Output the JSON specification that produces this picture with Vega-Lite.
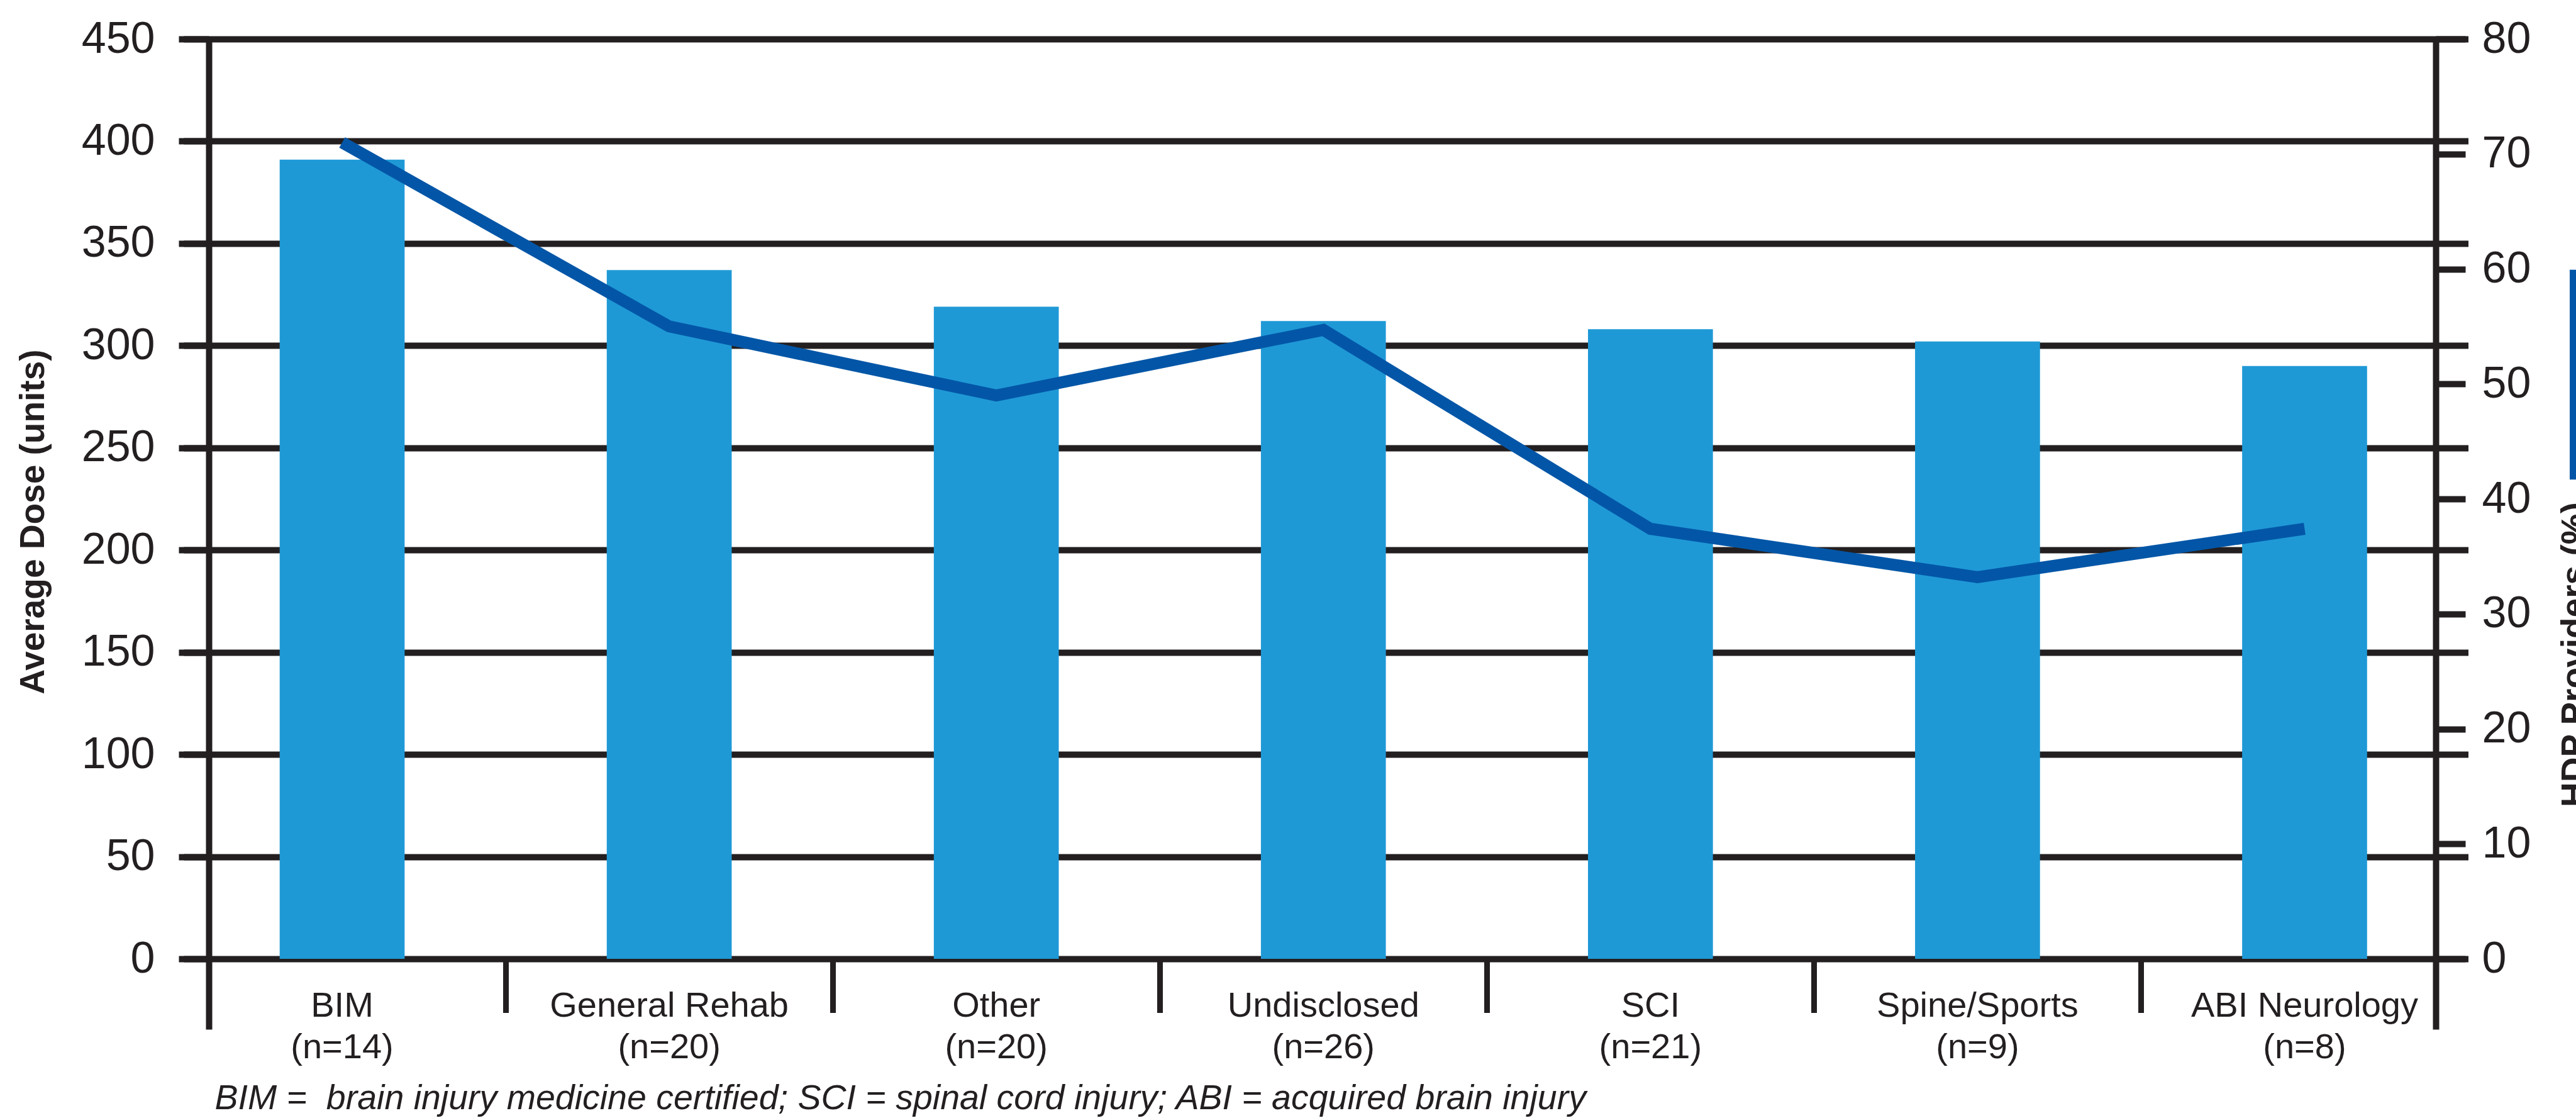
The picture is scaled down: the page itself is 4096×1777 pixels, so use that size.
{
  "$schema": "https://vega.github.io/schema/vega-lite/v6.json",
  "width": 3541,
  "height": 1574,
  "autosize": {"type": "none"},
  "padding": {"left": 332, "top": 62, "right": 223, "bottom": 141},
  "background": "white",
  "config": {
    "view": {"stroke": null},
    "font": "Liberation Sans",
    "axis": {"labelFont": "Liberation Sans", "titleFont": "Liberation Sans"}
  },
  "data": {
    "values": [
      {"specialty": "BIM (n=14)", "dose": 391, "pct": 71},
      {"specialty": "General Rehab (n=20)", "dose": 337, "pct": 55},
      {"specialty": "Other (n=20)", "dose": 319, "pct": 49},
      {"specialty": "Undisclosed (n=26)", "dose": 312, "pct": 54.7},
      {"specialty": "SCI (n=21)", "dose": 308, "pct": 37.4},
      {"specialty": "Spine/Sports (n=9)", "dose": 302, "pct": 33.2},
      {"specialty": "ABI Neurology (n=8)", "dose": 290, "pct": 37.4}
    ]
  },
  "layer": [
    {
      "mark": {"type": "bar", "color": "#1F99D6", "width": {"band": 0.382}},
      "encoding": {
        "x": {
          "field": "specialty",
          "type": "nominal",
          "sort": null,
          "scale": {"type": "band", "range": [-48, 3592.5], "paddingInner": 0, "paddingOuter": 0},
          "axis": {
            "orient": "bottom",
            "offset": -112,
            "domain": false,
            "ticks": false,
            "grid": false,
            "labelAngle": 0,
            "labelFontSize": 56,
            "labelColor": "#231F20",
            "labelPadding": 47,
            "labelLineHeight": 66.5,
            "labelLimit": 2000,
            "labelOverlap": false,
            "labelFlush": false,
            "labelExpr": "[substring(datum.label, 0, indexof(datum.label, ' (')), substring(datum.label, indexof(datum.label, ' (') + 1)]",
            "title": "BIM = \u00a0brain injury medicine certified; SCI = spinal cord injury; ABI = acquired brain injury",
            "titleFontSize": 55.5,
            "titleFontStyle": "italic",
            "titleFontWeight": "normal",
            "titleColor": "#231F20",
            "titleX": 9,
            "titleY": 238.6,
            "titleAlign": "left",
            "titleAnchor": "start",
            "titleBaseline": "alphabetic"
          }
        },
        "y": {
          "field": "dose",
          "type": "quantitative",
          "scale": {"domain": [-34.47, 450], "nice": false, "zero": false},
          "axis": {
            "orient": "left",
            "values": [0, 50, 100, 150, 200, 250, 300, 350, 400, 450],
            "grid": true,
            "gridColor": "#231F20",
            "gridWidth": 10,
            "gridOpacity": 1,
            "domain": true,
            "domainColor": "#231F20",
            "domainWidth": 10,
            "ticks": true,
            "tickSize": 40,
            "tickWidth": 10,
            "tickColor": "#231F20",
            "labelFontSize": 70,
            "labelColor": "#231F20",
            "labelPadding": 46,
            "title": "Average Dose (units)",
            "titleFontSize": 55,
            "titleFontWeight": "bold",
            "titleColor": "#231F20",
            "titleAngle": -90,
            "titleX": -306,
            "titleY": 767,
            "titleAlign": "center",
            "titleBaseline": "top"
          }
        }
      }
    },
    {
      "mark": {"type": "line", "strokeWidth": 19, "strokeJoin": "miter", "strokeCap": "butt"},
      "encoding": {
        "x": {
          "field": "specialty",
          "type": "nominal",
          "sort": null,
          "scale": {"type": "band", "range": [-48, 3592.5], "paddingInner": 0, "paddingOuter": 0},
          "axis": {
            "orient": "bottom",
            "offset": -112,
            "values": ["General Rehab (n=20)", "Other (n=20)", "Undisclosed (n=26)", "SCI (n=21)", "Spine/Sports (n=9)", "ABI Neurology (n=8)"],
            "bandPosition": 0,
            "domain": false,
            "labels": false,
            "grid": false,
            "ticks": true,
            "tickSize": 85.5,
            "tickWidth": 9,
            "tickColor": "#231F20",
            "title": null
          }
        },
        "y": {
          "field": "pct",
          "type": "quantitative",
          "scale": {"domain": [-6.128, 80], "nice": false, "zero": false},
          "axis": {
            "orient": "right",
            "values": [0, 10, 20, 30, 40, 50, 60, 70, 80],
            "grid": false,
            "domain": true,
            "domainColor": "#231F20",
            "domainWidth": 10,
            "ticks": true,
            "tickSize": 47,
            "tickWidth": 10,
            "tickColor": "#231F20",
            "labelFontSize": 70,
            "labelColor": "#231F20",
            "labelPadding": 26,
            "title": "HDP Providers (%)",
            "titleFontSize": 55,
            "titleFontWeight": "bold",
            "titleColor": "#231F20",
            "titleAngle": -90,
            "titleX": 194,
            "titleY": 978,
            "titleAlign": "center",
            "titleBaseline": "top"
          }
        },
        "color": {
          "datum": "HDP Providers (%)",
          "type": "nominal",
          "scale": {"range": ["#0356A7"]},
          "legend": {
            "orient": "none",
            "legendX": 3587,
            "legendY": 357,
            "title": null,
            "padding": 0,
            "symbolType": "M0,-1L0,1",
            "symbolSize": 111222,
            "symbolStrokeWidth": 19,
            "symbolStrokeColor": "#0356A7",
            "labelExpr": "''"
          }
        }
      }
    }
  ],
  "resolve": {"scale": {"x": "independent", "y": "independent"}, "axis": {"x": "independent"}}
}
